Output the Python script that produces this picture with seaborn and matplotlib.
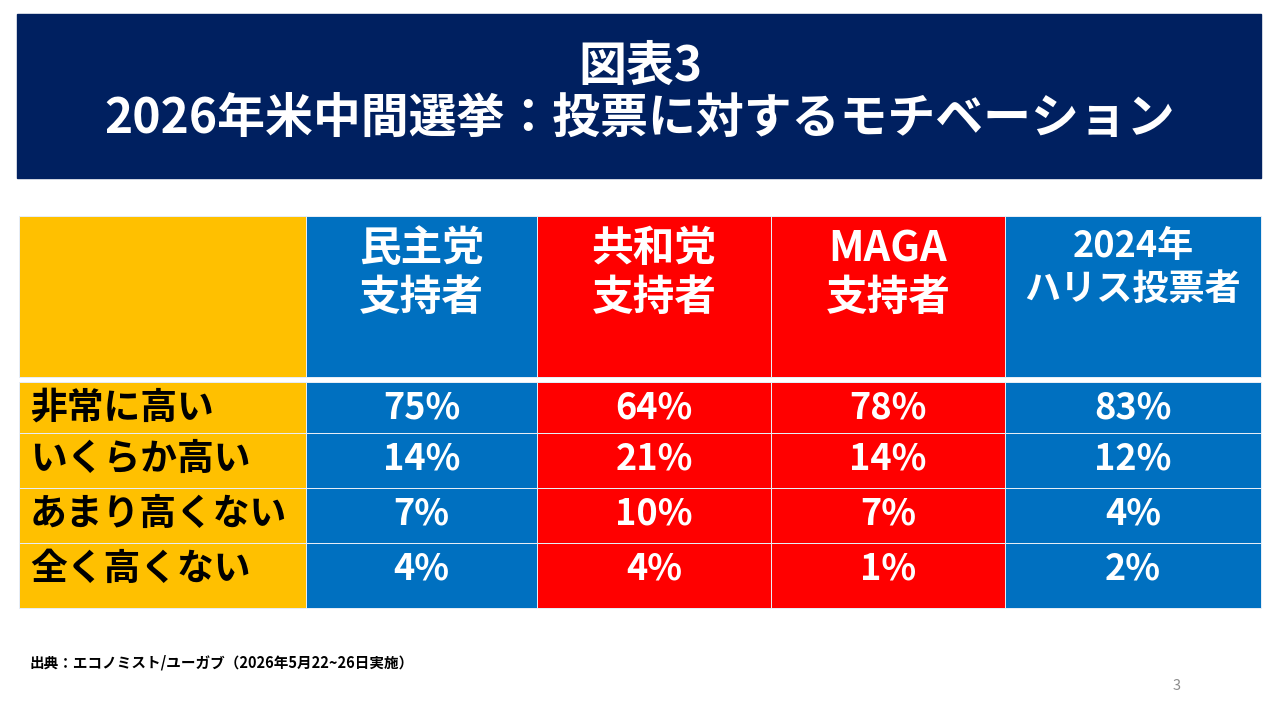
import numpy as np
import matplotlib
matplotlib.use('Agg')
import matplotlib.pyplot as plt
from matplotlib.colors import ListedColormap
from matplotlib.patches import Rectangle
import seaborn as sns

# --- data ---
levels = ['非常に高い', 'いくらか高い', 'あまり高くない', '全く高くない']
groups = ['民主党\n支持者', '共和党\n支持者', 'MAGA\n支持者', '2024年\nハリス投票者']
dem = [75, 14, 7, 4]
rep = [64, 21, 10, 4]
maga = [78, 14, 7, 1]
harris = [83, 12, 4, 2]
values = [dem, rep, maga, harris]

title_top = '図表3'
title_main = '2026年米中間選挙：投票に対するモチベーション'
source = '出典：エコノミスト/ユーガブ（2026年5月22~26日実施）'
page_no = '3'

# --- style ---
sns.set_theme(style='white')
plt.rcParams['font.family'] = ['Noto Sans CJK JP', 'DejaVu Sans']

NAVY = '#002060'
palette = ['#FFC000', '#0070C0', '#FF0000']  # label, blue party, red party
col_kind = [0, 1, 2, 2, 1]
cmap = ListedColormap(palette)

# layout (pixels)
col_edges = np.array([19, 306, 537, 771, 1005, 1261])
head_edges = np.array([216, 377])
row_edges = np.array([382, 433, 488, 543, 608])

fig = plt.figure(figsize=(12.8, 7.2), dpi=100)
ax = fig.add_axes([0, 0, 1, 1])
ax.set_xlim(0, 1280)
ax.set_ylim(720, 0)
ax.axis('off')

# title banner
ax.add_patch(Rectangle((17, 14), 1244, 164, color=NAVY, zorder=1))
ax.text(640, 66, title_top, color='white', fontsize=34.5, fontweight='bold',
        ha='center', va='center')
ax.text(640, 118, title_main, color='white', fontsize=34.5, fontweight='bold',
        ha='center', va='center')

# header row
head_c = np.array([col_kind])
ax.pcolormesh(col_edges, head_edges, head_c, cmap=cmap, vmin=-0.5, vmax=2.5,
              edgecolors='#e6edf6', linewidth=0.6, zorder=2)

# body rows
body_c = np.tile(col_kind, (len(levels), 1))
ax.pcolormesh(col_edges, row_edges, body_c, cmap=cmap, vmin=-0.5, vmax=2.5,
              edgecolors='#e6edf6', linewidth=0.6, zorder=2)

col_mid = (col_edges[:-1] + col_edges[1:]) / 2

# header labels
for j, g in enumerate(groups):
    x = col_mid[j + 1]
    if j == 3:
        ax.text(x, 228, g, color='white', fontsize=26, fontweight='bold',
                ha='center', va='top', linespacing=1.2)
    else:
        ax.text(x, 228, g, color='white', fontsize=30, fontweight='bold',
                ha='center', va='top', linespacing=1.2)

# row labels and values
for i, lev in enumerate(levels):
    y = row_edges[i] + 26
    ax.text(30, y, lev, color='black', fontsize=26.5, fontweight='bold',
            ha='left', va='center')
    for j in range(len(groups)):
        ax.text(col_mid[j + 1], y, f'{values[j][i]}%', color='white',
                fontsize=26, fontweight='bold', ha='center', va='center')

# footer
ax.text(30, 663, source, color='black', fontsize=10.5, fontweight='bold',
        ha='left', va='center')
ax.text(1177, 686, page_no, color='#8c8c8c', fontsize=10.5,
        ha='center', va='center')

fig.savefig('out.png', dpi=100, facecolor='white')
